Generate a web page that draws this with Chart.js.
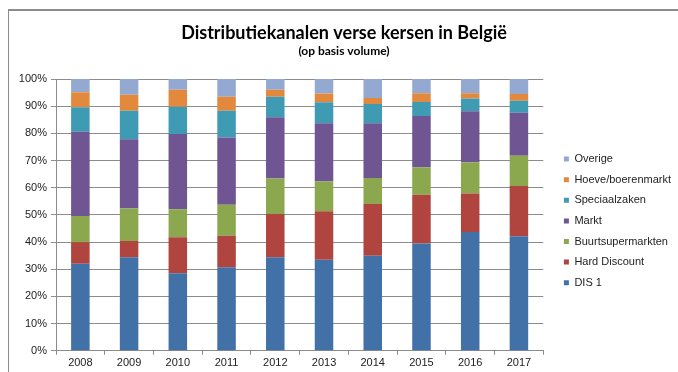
<!DOCTYPE html>
<html>
<head>
<meta charset="utf-8">
<script src="https://cdn.jsdelivr.net/npm/chart.js@4"></script>
<style>
    html, body { margin: 0; padding: 0; background: #fff; }
    #wrap { width: 678px; height: 372px; }
</style>
</head>
<body>
<div id="wrap"><canvas id="kanalenChart"></canvas></div>
<script>
// Jaren en aandeel per distributiekanaal (% van volume)
const jaren = ['2008', '2009', '2010', '2011', '2012', '2013', '2014', '2015', '2016', '2017'];
const dis1 = [32, 34.4, 28.5, 30.7, 34.4, 33.5, 35, 39.5, 43.7, 42.1];
const hardDiscount = [7.9, 6, 13.3, 11.6, 15.9, 17.8, 19, 17.9, 14.2, 18.5];
const buurtsupermarkten = [9.7, 12, 10.3, 11.4, 13.1, 11, 9.6, 10.1, 11.5, 11.2];
const markt = [31, 25.4, 27.7, 24.8, 22.5, 21.4, 20.1, 18.9, 18.7, 15.8];
const speciaalzaken = [9, 10.5, 10, 9.8, 7.6, 7.7, 7.1, 5.1, 4.7, 4.4];
const hoeve = [5.5, 5.9, 6.2, 5.2, 2.5, 3.3, 2.2, 3.3, 2, 2.5];
const overige = [4.9, 5.8, 4, 6.5, 4, 5.3, 7, 5.2, 5.2, 5.5];
const yTicks = [0, 10, 20, 30, 40, 50, 60, 70, 80, 90, 100];

const lijnKleur = '#8c8c8c';
const tekstFont = { family: '"Liberation Sans", Arial, sans-serif', size: 11 };

// grijze rand boven en links rond de grafiek
const kader = {
    id: 'kader',
    beforeDraw(chart) {
        const ctx = chart.ctx;
        ctx.save();
        ctx.fillStyle = '#fff';
        ctx.fillRect(0, 0, chart.width, chart.height);
        ctx.strokeStyle = lijnKleur;
        ctx.lineWidth = 2;
        ctx.beginPath();
        ctx.moveTo(8, 10);
        ctx.lineTo(chart.width, 10);
        ctx.stroke();
        ctx.lineWidth = 1;
        ctx.beginPath();
        ctx.moveTo(8.5, 10);
        ctx.lineTo(8.5, chart.height);
        ctx.stroke();
        ctx.restore();
    }
};

// legenda iets naar rechts en omlaag schuiven
const legendaPlek = {
    id: 'legendaPlek',
    afterLayout(chart) {
        const lg = chart.legend;
        lg.left += 11;
        lg.right += 11;
        lg.top += 6;
        lg.bottom += 6;
    }
};

const reeks = (label, data, kleur) => ({
    label,
    data,
    backgroundColor: kleur,
    borderWidth: 0,
    categoryPercentage: 1,
    barPercentage: 0.38
});

const ctx = document.getElementById('kanalenChart').getContext('2d');
const kanalenChart = new Chart(ctx, {
    type: 'bar',
    data: {
        labels: jaren,
        datasets: [
            reeks('DIS 1', dis1, '#4271a8'),
            reeks('Hard Discount', hardDiscount, '#b0443f'),
            reeks('Buurtsupermarkten', buurtsupermarkten, '#8ba84f'),
            reeks('Markt', markt, '#6f5591'),
            reeks('Speciaalzaken', speciaalzaken, '#3f9ab4'),
            reeks('Hoeve/boerenmarkt', hoeve, '#e3893e'),
            reeks('Overige', overige, '#93a9d2')
        ]
    },
    options: {
        responsive: true,
        maintainAspectRatio: false,
        animation: false,
        layout: { padding: { top: 0, left: 18, right: 8, bottom: 0 } },
        plugins: {
            title: {
                display: true,
                text: 'Distributiekanalen verse kersen in België',
                color: '#000',
                font: { family: 'Lato, "Open Sans", sans-serif', size: 18, weight: 'bold' },
                padding: { top: 22, bottom: 0 }
            },
            subtitle: {
                display: true,
                text: '(op basis volume)',
                color: '#000',
                font: { family: 'Lato, "Open Sans", sans-serif', size: 12, weight: 'bold' },
                padding: { top: 0, bottom: 21 }
            },
            legend: {
                position: 'right',
                fullSize: false,
                reverse: true,
                labels: {
                    color: '#222',
                    font: tekstFont,
                    boxWidth: 5,
                    boxHeight: 5,
                    padding: 9.6
                }
            },
            tooltip: { enabled: false }
        },
        scales: {
            x: {
                stacked: true,
                grid: {
                    offset: true,
                    drawOnChartArea: false,
                    color: lijnKleur,
                    tickLength: 4
                },
                border: { color: lijnKleur },
                ticks: { color: '#222', font: tekstFont, padding: 2 }
            },
            y: {
                stacked: true,
                min: 0,
                max: 100,
                afterBuildTicks: (axis) => { axis.ticks = yTicks.map(v => ({ value: v })); },
                afterFit: (axis) => { axis.width = 38; },
                grid: { color: lijnKleur, tickLength: 5 },
                border: { color: lijnKleur },
                ticks: {
                    color: '#222',
                    font: tekstFont,
                    padding: 4,
                    callback: (v) => v + '%'
                }
            }
        }
    },
    plugins: [kader, legendaPlek]
});
</script>
</body>
</html>
